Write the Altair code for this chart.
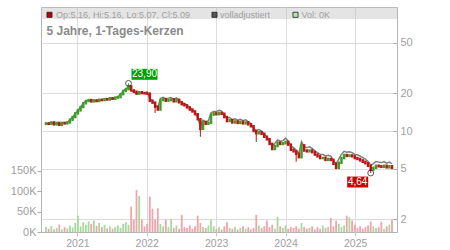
import altair as alt
import pandas as pd

# ---------------- data ----------------
start_date = "2020-07-20"
step = "14D"
close = [11.5, 11.4, 11.7, 11.3, 11.6, 11.2, 11.6, 11.5, 11.7, 12.3,
         12.9, 13.8, 14.6, 15.5, 16.6, 17.3, 17.6, 17.2, 17.5, 17.3,
         17.7, 17.6, 17.9, 17.8, 18.2, 18.0, 18.4, 18.6, 19.6, 20.8,
         21.5, 22.6, 21.0, 20.5, 19.8, 20.3, 20.0, 19.9, 19.8, 17.4,
         16.8, 15.6, 14.8, 17.6, 17.9, 17.4, 17.6, 17.8, 17.2, 17.7,
         16.9, 16.3, 16.0, 15.4, 14.8, 14.3, 13.6, 12.4, 10.4, 11.8,
         11.4, 11.6, 13.5, 13.8, 13.6, 13.9, 13.7, 12.9, 12.0, 12.2,
         11.7, 11.9, 11.6, 11.8, 11.5, 11.7, 11.3, 10.9, 10.0, 9.6,
         9.8, 9.5, 9.0, 8.6, 7.9, 7.2, 7.6, 8.1, 7.9, 8.0,
         8.2, 7.8, 7.1, 6.9, 6.6, 6.2, 7.7, 7.0, 6.9, 7.0,
         6.8, 6.5, 6.3, 6.1, 6.1, 5.9, 6.0, 5.9, 5.5, 5.1,
         5.6, 6.1, 6.45, 6.35, 6.4, 6.3, 6.1, 6.0, 5.85, 5.7,
         5.55, 5.3, 4.95, 5.1, 5.3, 5.25, 5.2, 5.3, 5.15, 5.25,
         5.09]
first_open = 11.4
volume_k = [12, 8, 15, 6, 10, 18, 7, 12, 9, 16,
            11, 22, 40, 14, 24, 18, 26, 20, 28, 15,
            22, 12, 18, 9, 14, 8, 12, 16, 10, 20,
            24, 18, 62, 30, 103, 88, 30, 14, 20, 87,
            57, 30, 58, 20, 14, 30, 12, 32, 10, 16,
            8, 42, 12, 10, 16, 8, 14, 40, 22, 12,
            10, 16, 30, 14, 8, 12, 6, 14, 24, 10,
            8, 12, 6, 10, 14, 8, 12, 6, 10, 42,
            16, 10, 14, 28, 12, 18, 8, 37, 14, 10,
            16, 8, 12, 10, 14, 8, 22, 12, 8, 10,
            14, 6, 12, 8, 16, 10, 12, 34, 14, 28,
            20, 12, 16, 40, 36, 28, 18, 10, 14, 8,
            12, 16, 26, 14, 10, 12, 25, 8, 14, 18,
            30]
spike_low = {41: 13.9, 58: 9.0, 79: 8.2, 94: 5.7, 122: 4.64}
spike_high = {31: 23.9, 96: 8.1}
adj_year_factor = {2020: 1.0, 2021: 1.0, 2022: 1.035, 2023: 1.05, 2024: 1.07, 2025: 1.08}

ann_index = [31, 122]
ann_value = [23.9, 4.64]
ann_label = ["23,90", "4,64"]

legend_ohlc = "Op:5.16, Hi:5.16, Lo:5.07, Cl:5.09"
legend_adj = "volladjustiert"
legend_vol = "Vol: 0K"
title_text = "5 Jahre, 1-Tages-Kerzen"

price_ticks = [2, 5, 10, 20, 50]
vol_ticks = [0, 50000, 100000, 150000]

# ---------------- table ----------------
dates = pd.date_range(start_date, periods=len(close), freq=step)
opens = [first_open] + close[:-1]
rows = []
for i, (d, o, c, v) in enumerate(zip(dates, opens, close, volume_k)):
    lo = spike_low.get(i, min(o, c))
    hi = spike_high.get(i, max(o, c))
    rows.append({
        "date": d.strftime("%Y-%m-%d"),
        "open": o, "close": c, "low": lo, "high": hi,
        "adj": c * adj_year_factor[d.year],
        "vol": v * 1000,
        "up": c >= o,
    })
df = pd.DataFrame(rows)
ann_df = pd.DataFrame({
    "date": [dates[i].strftime("%Y-%m-%d") for i in ann_index],
    "value": ann_value,
    "label": ann_label,
})

W, H = 356, 225
FONT = "Liberation Sans"
GRID = "#dcdcdc"
LABEL = "#a0a0a0"

x_axis = alt.Axis(format="%Y", tickCount={"interval": "year", "step": 1},
                  grid=True, gridColor=GRID, domain=False, tickSize=4,
                  tickColor="#c8c8c8", labelColor=LABEL, labelFontSize=10.5,
                  labelFont=FONT, labelPadding=2, title=None)
x_enc = alt.X("date:T", axis=x_axis,
              scale=alt.Scale(domain=[alt.DateTime(year=2020, month=7, date=20),
                                      alt.DateTime(year=2025, month=7, date=14)]))

price_scale = alt.Scale(type="log", domain=[1.58, 96.4], nice=False)
price_axis = alt.Axis(orient="right", values=price_ticks, format="~g", offset=-4,
                      domain=False, tickSize=4, tickColor="#aaaaaa", grid=True,
                      gridColor=GRID, labelColor=LABEL, labelFontSize=11,
                      labelFont=FONT, labelPadding=3, title=None)

base = alt.Chart(df)

vol = base.mark_bar(size=1.8).encode(
    x=x_enc,
    y=alt.Y("vol:Q", scale=alt.Scale(domain=[0, 551000], nice=False),
            axis=alt.Axis(orient="left", values=vol_ticks,
                          labelExpr="(datum.value/1000) + 'K'", grid=False,
                          domain=False, tickSize=4, tickColor="#aaaaaa",
                          labelColor=LABEL, labelFontSize=11, labelFont=FONT,
                          labelPadding=1, title=None)),
    color=alt.condition(alt.datum.up, alt.value("#a6d99c"), alt.value("#f0a3aa")),
)

adj_line = base.mark_line(color="#7c7c7c", strokeWidth=1.4).encode(
    x=x_enc, y=alt.Y("adj:Q", scale=price_scale, axis=price_axis))

cand_color = alt.condition(alt.datum.up, alt.value("#3c9e28"), alt.value("#bf1414"))
wick = base.mark_rule(strokeWidth=1).encode(
    x=x_enc, y=alt.Y("low:Q", scale=price_scale, axis=price_axis), y2="high:Q",
    color=cand_color)
body = base.mark_rule(strokeWidth=2.5, strokeCap="square").encode(
    x=x_enc, y=alt.Y("open:Q", scale=price_scale, axis=price_axis), y2="close:Q",
    color=cand_color)

ann = alt.Chart(ann_df)
ann_y = alt.Y("value:Q", scale=price_scale, axis=price_axis)
circ = ann.mark_point(shape="circle", size=34, filled=False, color="#111111",
                      strokeWidth=1).encode(x=x_enc, y=ann_y)
box_hi = ann.transform_filter(alt.datum.label == ann_label[0]).mark_point(
    shape="M-1,-0.42L1,-0.42L1,0.42L-1,0.42Z", size=676, filled=True,
    color="#00a000", opacity=1, xOffset=16, yOffset=-9).encode(x=x_enc, y=ann_y)
txt_hi = ann.transform_filter(alt.datum.label == ann_label[0]).mark_text(
    color="white", fontSize=10, font=FONT, dx=16, dy=-9).encode(
    x=x_enc, y=ann_y, text="label:N")
box_lo = ann.transform_filter(alt.datum.label == ann_label[1]).mark_point(
    shape="M-1,-0.52L1,-0.52L1,0.52L-1,0.52Z", size=441, filled=True,
    color="#cc0000", opacity=1, xOffset=-13, yOffset=9).encode(x=x_enc, y=ann_y)
txt_lo = ann.transform_filter(alt.datum.label == ann_label[1]).mark_text(
    color="white", fontSize=10, font=FONT, dx=-13, dy=9).encode(
    x=x_enc, y=ann_y, text="label:N")

price = alt.layer(adj_line, wick, body, circ, box_hi, txt_hi, box_lo, txt_lo)

# ---------------- decorations (header) ----------------
one = alt.Chart(pd.DataFrame({"k": [0]}))
band = one.mark_rect(fill="#c4c4c4", opacity=0.45).encode(
    x=alt.value(0), x2=alt.value(W), y=alt.value(0), y2=alt.value(12))

def sq(xpos, fill):
    return one.mark_point(shape="square", filled=True, size=26, fill=fill,
                          stroke="#222222", strokeWidth=0.8, opacity=1).encode(
        x=alt.value(xpos), y=alt.value(7.8))

def lt(xpos, text):
    return one.mark_text(align="left", baseline="middle", fontSize=9, font=FONT,
                         color="#a0a0a0").encode(
        x=alt.value(xpos), y=alt.value(7.8), text=alt.value(text))

title = one.mark_text(align="left", baseline="middle", fontSize=12, font=FONT,
                      fontWeight="bold", color="#8a8a8a").encode(
    x=alt.value(5.5), y=alt.value(23.5), text=alt.value(title_text))

deco = alt.layer(band, sq(8.5, "#c00000"), lt(15, legend_ohlc),
                 sq(173.5, "#555555"), lt(179, legend_adj),
                 sq(254.5, "#b6e2b0"), lt(260.5, legend_vol), title)

chart = alt.layer(vol, price, deco).resolve_scale(y="independent").properties(
    width=W, height=H,
    autosize=alt.AutoSizeParams(type="none"),
    padding={"left": 41, "top": 7, "right": 53, "bottom": 18},
    background="white",
).configure_view(stroke="#b4b4b4", strokeWidth=1)

chart.save("out.html", embed_options={"renderer": "svg", "actions": False})
